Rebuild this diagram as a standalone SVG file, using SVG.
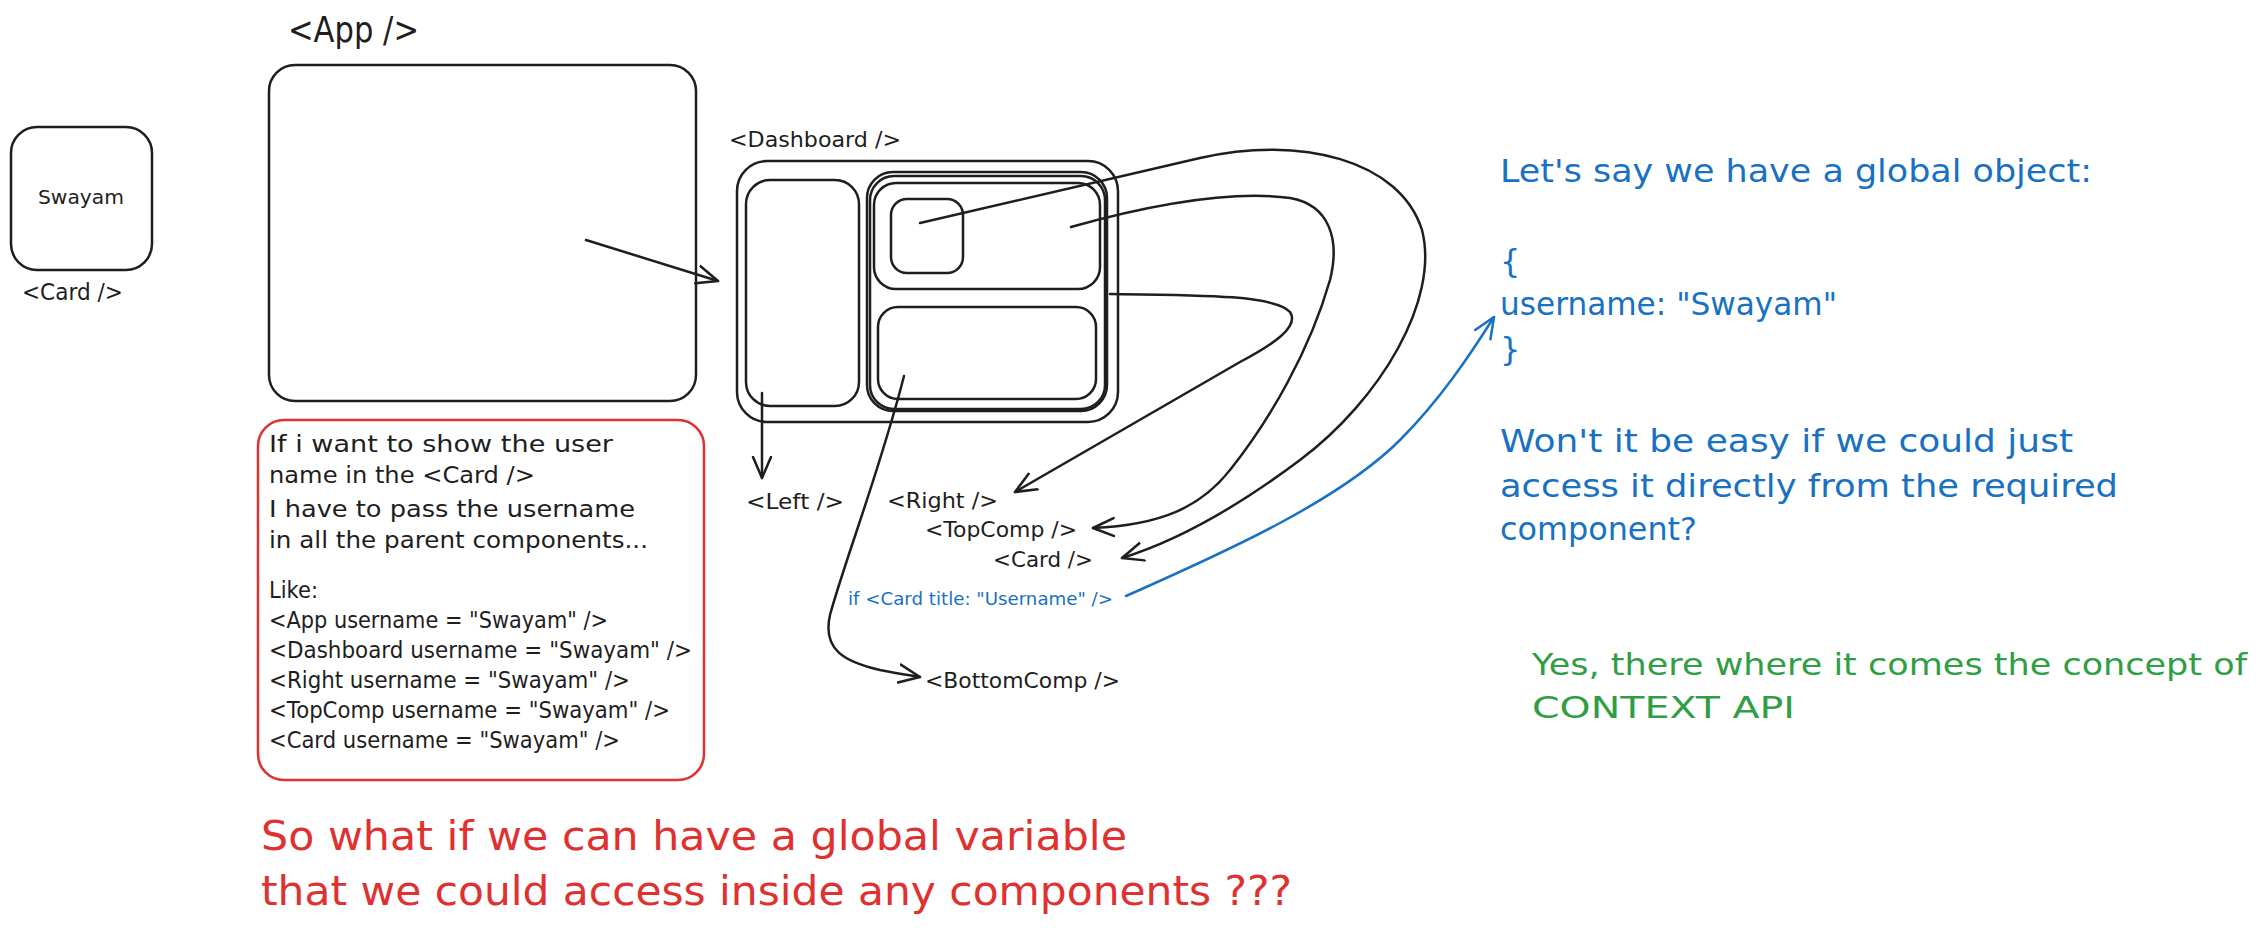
<svg xmlns="http://www.w3.org/2000/svg" width="2264" height="931" viewBox="0 0 2264 931">
<style>
.s{fill:none;stroke:#1e1e1e;stroke-width:2.5;stroke-linecap:round;stroke-linejoin:round}
.b{fill:none;stroke:#1971c2;stroke-width:2.5;stroke-linecap:round;stroke-linejoin:round}
.r{fill:none;stroke:#e03131;stroke-width:2.5}
text{font-family:"DejaVu Sans","Liberation Sans",sans-serif}
.t{fill:#1e1e1e}
.tb{fill:#1971c2}
.tr{fill:#e03131}
.tg{fill:#2f9e44}
</style>
<defs>
<marker id="ah" viewBox="0 0 24 24" refX="22" refY="12" markerWidth="24" markerHeight="24" markerUnits="userSpaceOnUse" orient="auto"><path d="M1,3 L22,12 L1,21" fill="none" stroke="#1e1e1e" stroke-width="2.5" stroke-linecap="round" stroke-linejoin="round"/></marker>
<marker id="ahb" viewBox="0 0 24 24" refX="22" refY="12" markerWidth="24" markerHeight="24" markerUnits="userSpaceOnUse" orient="auto"><path d="M1,3 L22,12 L1,21" fill="none" stroke="#1971c2" stroke-width="2.5" stroke-linecap="round" stroke-linejoin="round"/></marker>
</defs>
<rect width="2264" height="931" fill="#ffffff"/>

<g id="card">
<rect class="s" x="11" y="127" width="141" height="143" rx="26"/>
<text class="t" x="38" y="204" font-size="20" textLength="86" lengthAdjust="spacingAndGlyphs">Swayam</text>
<text class="t" x="22" y="300" font-size="23" textLength="101" lengthAdjust="spacingAndGlyphs">&lt;Card /&gt;</text>
</g>

<g id="app">
<text class="t" x="288" y="42" font-size="36" textLength="131" lengthAdjust="spacingAndGlyphs">&lt;App /&gt;</text>
<rect class="s" x="269" y="65" width="427" height="336" rx="26"/>
</g>

<g id="dashboard">
<text class="t" x="729" y="147" font-size="21" textLength="172" lengthAdjust="spacingAndGlyphs">&lt;Dashboard /&gt;</text>
<rect class="s" x="737" y="161" width="381" height="261" rx="30"/>
</g>

<g id="left">
<rect class="s" x="746" y="180" width="113" height="226" rx="24"/>
<text class="t" x="746" y="509" font-size="22" textLength="98" lengthAdjust="spacingAndGlyphs">&lt;Left /&gt;</text>
</g>

<g id="right">
<rect class="s" x="867" y="172" width="240" height="239" rx="26"/>
<rect class="s" x="870" y="176" width="235" height="233" rx="24"/>
<text class="t" x="887" y="508" font-size="22" textLength="111" lengthAdjust="spacingAndGlyphs">&lt;Right /&gt;</text>
</g>

<g id="topcomp">
<rect class="s" x="874" y="183" width="226" height="106" rx="22"/>
<text class="t" x="925" y="537" font-size="22" textLength="152" lengthAdjust="spacingAndGlyphs">&lt;TopComp /&gt;</text>
</g>

<g id="innercard">
<rect class="s" x="891" y="199" width="72" height="74" rx="16"/>
<text class="t" x="993" y="567" font-size="22" textLength="100" lengthAdjust="spacingAndGlyphs">&lt;Card /&gt;</text>
<text class="tb" x="848" y="605" font-size="17" textLength="265" lengthAdjust="spacingAndGlyphs">if &lt;Card title: "Username" /&gt;</text>
</g>

<g id="bottomcomp">
<rect class="s" x="878" y="307" width="218" height="92" rx="20"/>
<text class="t" x="925" y="688" font-size="22" textLength="195" lengthAdjust="spacingAndGlyphs">&lt;BottomComp /&gt;</text>
</g>

<g id="connectors">
<path class="s" d="M586,240 L718,281" marker-end="url(#ah)"/>
<path class="s" d="M762,393 L762,478" marker-end="url(#ah)"/>
<path class="s" d="M920,223 L1200,158 C1300,135 1400,160 1422,230 C1440,300 1380,400 1300,460 C1240,505 1180,540 1122,558" marker-end="url(#ah)"/>
<path class="s" d="M1071,227 C1150,205 1230,190 1290,198 C1330,205 1340,240 1330,280 C1310,350 1270,420 1230,470 C1200,508 1160,525 1093,528" marker-end="url(#ah)"/>
<path class="s" d="M1110,294 C1200,295 1275,295 1290,312 C1300,327 1272,345 1240,362 L1015,492" marker-end="url(#ah)"/>
<path class="s" d="M904,376 C880,470 845,560 830,615 C822,650 845,662 880,670 C895,673 908,675 920,677" marker-end="url(#ah)"/>
<path class="b" d="M1126,596 C1230,550 1340,500 1400,440 C1440,400 1470,355 1494,317" marker-end="url(#ahb)"/>
</g>

<g id="note-box">
<rect class="r" x="258" y="420" width="446" height="360" rx="26"/>
<text class="t" font-size="23" lengthAdjust="spacingAndGlyphs">
<tspan x="269" y="452" textLength="344" lengthAdjust="spacingAndGlyphs">If i want to show the user</tspan>
<tspan x="269" y="483" textLength="266" lengthAdjust="spacingAndGlyphs">name in the &lt;Card /&gt;</tspan>
<tspan x="269" y="517" textLength="366" lengthAdjust="spacingAndGlyphs">I have to pass the username</tspan>
<tspan x="269" y="548" textLength="379" lengthAdjust="spacingAndGlyphs">in all the parent components...</tspan>
<tspan x="269" y="598" textLength="49" lengthAdjust="spacingAndGlyphs">Like:</tspan>
<tspan x="269" y="628" textLength="339" lengthAdjust="spacingAndGlyphs">&lt;App username = "Swayam" /&gt;</tspan>
<tspan x="269" y="658" textLength="423" lengthAdjust="spacingAndGlyphs">&lt;Dashboard username = "Swayam" /&gt;</tspan>
<tspan x="269" y="688" textLength="361" lengthAdjust="spacingAndGlyphs">&lt;Right username = "Swayam" /&gt;</tspan>
<tspan x="269" y="718" textLength="401" lengthAdjust="spacingAndGlyphs">&lt;TopComp username = "Swayam" /&gt;</tspan>
<tspan x="269" y="748" textLength="351" lengthAdjust="spacingAndGlyphs">&lt;Card username = "Swayam" /&gt;</tspan>
</text>
</g>

<g id="global-object-note">
<text class="tb" font-size="32">
<tspan x="1500" y="182" textLength="592" lengthAdjust="spacingAndGlyphs">Let's say we have a global object:</tspan>
<tspan x="1500" y="272">{</tspan>
<tspan x="1500" y="315" textLength="337" lengthAdjust="spacingAndGlyphs">username: "Swayam"</tspan>
<tspan x="1500" y="360">}</tspan>
<tspan x="1500" y="452" textLength="573" lengthAdjust="spacingAndGlyphs">Won't it be easy if we could just</tspan>
<tspan x="1500" y="497" textLength="618" lengthAdjust="spacingAndGlyphs">access it directly from the required</tspan>
<tspan x="1500" y="540" textLength="197" lengthAdjust="spacingAndGlyphs">component?</tspan>
</text>
</g>

<g id="context-note">
<text class="tg" font-size="31">
<tspan x="1532" y="675" textLength="715" lengthAdjust="spacingAndGlyphs">Yes, there where it comes the concept of</tspan>
<tspan x="1532" y="718" textLength="263" lengthAdjust="spacingAndGlyphs">CONTEXT API</tspan>
</text>
</g>

<g id="question">
<text class="tr" font-size="40">
<tspan x="261" y="850" textLength="866" lengthAdjust="spacingAndGlyphs">So what if we can have a global variable</tspan>
<tspan x="261" y="905" textLength="1031" lengthAdjust="spacingAndGlyphs">that we could access inside any components ???</tspan>
</text>
</g>
</svg>
